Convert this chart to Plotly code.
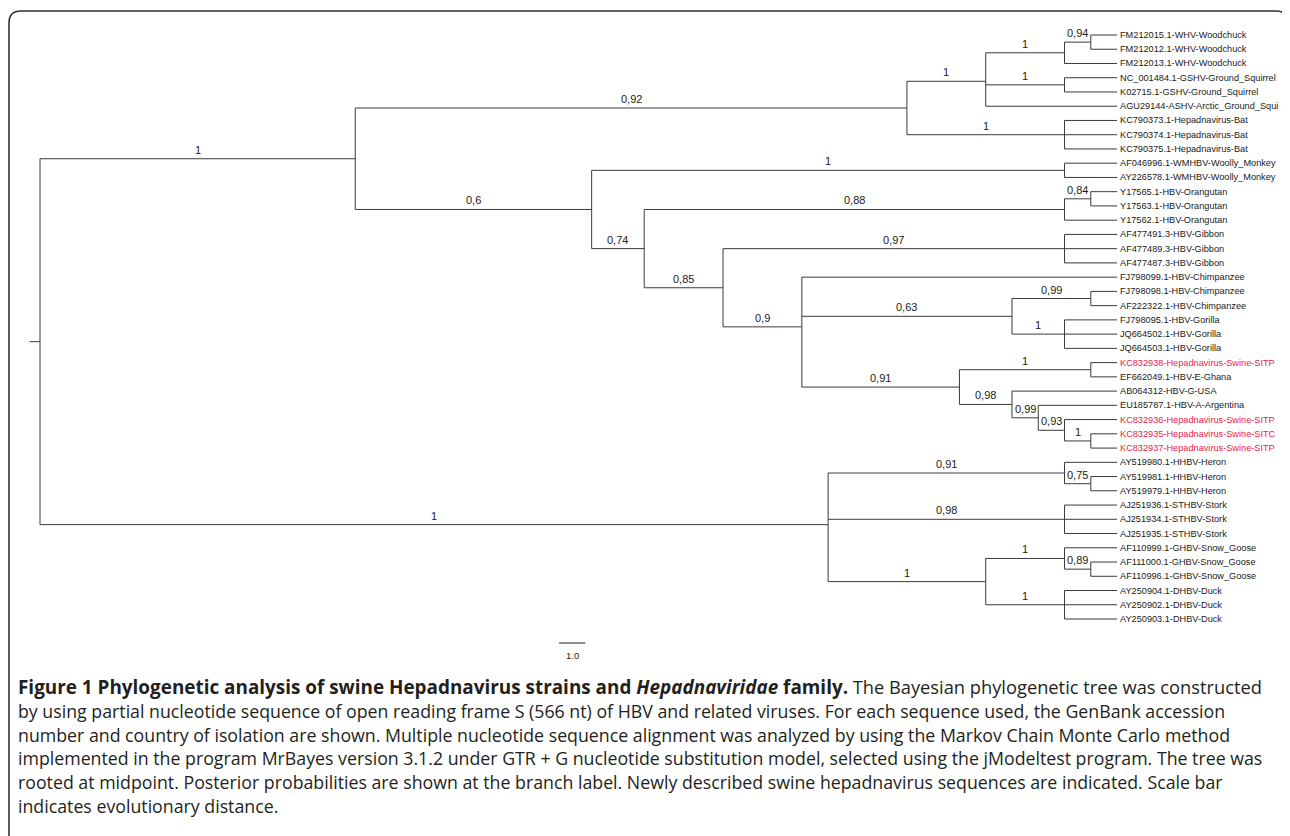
import plotly.graph_objects as go

# ---------------- data: tree (pre-order), branch lengths in tree units ----------------
node_names = [
    "root", "A", "B", "C", "D", "E",
    "FM212015.1-WHV-Woodchuck", "FM212012.1-WHV-Woodchuck", "FM212013.1-WHV-Woodchuck",
    "F", "NC_001484.1-GSHV-Ground_Squirrel", "K02715.1-GSHV-Ground_Squirrel",
    "AGU29144-ASHV-Arctic_Ground_Squi",
    "BAT", "KC790373.1-Hepadnavirus-Bat", "KC790374.1-Hepadnavirus-Bat", "KC790375.1-Hepadnavirus-Bat",
    "G", "WM", "AF046996.1-WMHBV-Woolly_Monkey", "AY226578.1-WMHBV-Woolly_Monkey",
    "H", "OR", "OR2", "Y17565.1-HBV-Orangutan", "Y17563.1-HBV-Orangutan", "Y17562.1-HBV-Orangutan",
    "I", "GB", "AF477491.3-HBV-Gibbon", "AF477489.3-HBV-Gibbon", "AF477487.3-HBV-Gibbon",
    "J", "FJ798099.1-HBV-Chimpanzee",
    "K", "CH", "FJ798098.1-HBV-Chimpanzee", "AF222322.1-HBV-Chimpanzee",
    "GO", "FJ798095.1-HBV-Gorilla", "JQ664502.1-HBV-Gorilla", "JQ664503.1-HBV-Gorilla",
    "L", "SW", "KC832938-Hepadnavirus-Swine-SITP", "EF662049.1-HBV-E-Ghana",
    "M1", "AB064312-HBV-G-USA", "M2", "EU185787.1-HBV-A-Argentina",
    "M3", "KC832936-Hepadnavirus-Swine-SITP", "M4",
    "KC832935-Hepadnavirus-Swine-SITC", "KC832937-Hepadnavirus-Swine-SITP",
    "AV", "HE", "AY519980.1-HHBV-Heron", "HE2", "AY519981.1-HHBV-Heron", "AY519979.1-HHBV-Heron",
    "ST", "AJ251936.1-STHBV-Stork", "AJ251934.1-STHBV-Stork", "AJ251935.1-STHBV-Stork",
    "N", "GS", "AF110999.1-GHBV-Snow_Goose", "GS2", "AF111000.1-GHBV-Snow_Goose",
    "AF110996.1-GHBV-Snow_Goose",
    "DU", "AY250904.1-DHBV-Duck", "AY250902.1-DHBV-Duck", "AY250903.1-DHBV-Duck",
]
node_parents = [
    None, "root", "A", "B", "C", "D",
    "E", "E", "D",
    "C", "F", "F",
    "C",
    "B", "BAT", "BAT", "BAT",
    "A", "G", "WM", "WM",
    "G", "H", "OR", "OR2", "OR2", "OR",
    "H", "I", "GB", "GB", "GB",
    "I", "J",
    "J", "K", "CH", "CH",
    "K", "GO", "GO", "GO",
    "J", "L", "SW", "SW",
    "L", "M1", "M1", "M2",
    "M2", "M3", "M3",
    "M4", "M4",
    "root", "AV", "HE", "HE", "HE2", "HE2",
    "AV", "ST", "ST", "ST",
    "AV", "N", "GS", "GS", "GS2",
    "GS2",
    "N", "DU", "DU", "DU",
]
branch_lengths = [
    0.4, 12, 21, 3, 3, 1,
    1, 1, 2,
    3, 2, 2,
    5,
    6, 2, 2, 2,
    9, 18, 2, 2,
    2, 16, 1, 1, 1, 2,
    3, 13, 2, 2, 2,
    3, 12,
    8, 3, 1, 1,
    2, 2, 2, 2,
    6, 5, 1, 1,
    2, 4, 1, 3,
    1, 2, 1,
    1, 1,
    30, 9, 2, 1, 1, 1,
    9, 2, 2, 2,
    6, 3, 2, 1, 1,
    1,
    3, 2, 2, 2,
]
support_labels = [
    "", "1", "0,92", "1", "1", "0,94",
    "", "", "",
    "1", "", "",
    "",
    "1", "", "", "",
    "0,6", "1", "", "",
    "0,74", "0,88", "0,84", "", "", "",
    "0,85", "0,97", "", "", "",
    "0,9", "",
    "0,63", "0,99", "", "",
    "1", "", "", "",
    "0,91", "1", "", "",
    "0,98", "", "0,99", "",
    "0,93", "", "1",
    "", "",
    "1", "0,91", "", "0,75", "", "",
    "0,98", "", "", "",
    "1", "1", "", "0,89", "",
    "",
    "1", "", "", "",
]
highlight_leaves = [
    "KC832938-Hepadnavirus-Swine-SITP", "KC832936-Hepadnavirus-Swine-SITP",
    "KC832935-Hepadnavirus-Swine-SITC", "KC832937-Hepadnavirus-Swine-SITP",
]
scale_bar_length = [1.0]
scale_bar_label = ["1.0"]

caption_title = "Figure 1 Phylogenetic analysis of swine Hepadnavirus strains and <i>Hepadnaviridae</i> family."
caption_lines = [
    "The Bayesian phylogenetic tree was constructed",
    "by using partial nucleotide sequence of open reading frame S (566 nt) of HBV and related viruses. For each sequence used, the GenBank accession",
    "number and country of isolation are shown. Multiple nucleotide sequence alignment was analyzed by using the Markov Chain Monte Carlo method",
    "implemented in the program MrBayes version 3.1.2 under GTR + G nucleotide substitution model, selected using the jModeltest program. The tree was",
    "rooted at midpoint. Posterior probabilities are shown at the branch label. Newly described swine hepadnavirus sequences are indicated. Scale bar",
    "indicates evolutionary distance.",
]

# ---------------- layout computations ----------------
OFF = 8                 # page body margin
W, H = 1290 - OFF, 836 - OFF
UNIT_PX = 26.27         # pixels per tree unit
ROOT_PX = 40 - OFF
LEAF_PX = 14.244        # pixels per leaf row
TOP_PX = 35 - OFF

parent_of = dict(zip(node_names, node_parents))
length_of = dict(zip(node_names, branch_lengths))
children = {n: [] for n in node_names}
for n, p in zip(node_names, node_parents):
    if p is not None:
        children[p].append(n)

depth = {}
for n in node_names:
    p = parent_of[n]
    depth[n] = 0.0 if p is None else depth[p] + length_of[n]

ypos = {}
leaf_order = [n for n in node_names if not children[n]]
for i, n in enumerate(leaf_order):
    ypos[n] = i
for n in reversed(node_names):
    if children[n]:
        ypos[n] = sum(ypos[c] for c in children[n]) / len(children[n])

xs, ys = [], []
for n in node_names:
    p = parent_of[n]
    if p is None:
        xs += [-length_of[n], 0, None]
        ys += [ypos[n], ypos[n], None]
    else:
        xs += [depth[p], depth[n], None]
        ys += [ypos[n], ypos[n], None]
    if children[n]:
        cy = [ypos[c] for c in children[n]]
        xs += [depth[n], depth[n], None]
        ys += [min(cy), max(cy), None]

LINE = "#3a3a3a"
TXT = "#1a1a1a"
fig = go.Figure()
fig.add_trace(go.Scatter(x=xs, y=ys, mode="lines", line=dict(color=LINE, width=1),
                         hoverinfo="skip", showlegend=False))

annotations = []
for n in leaf_order:
    col = "#f0204c" if n in highlight_leaves else TXT
    annotations.append(dict(x=depth[n], y=ypos[n], xref="x", yref="y", text=n,
                            showarrow=False, xanchor="left", yanchor="middle", xshift=1,
                            font=dict(family="Liberation Sans, Arial", size=9.2, color=col)))
for n, lab in zip(node_names, support_labels):
    if lab and parent_of[n] is not None:
        xm = (depth[parent_of[n]] + depth[n]) / 2
        annotations.append(dict(x=xm, y=ypos[n], xref="x", yref="y", text=lab,
                                showarrow=False, xanchor="center", yanchor="bottom", yshift=1,
                                font=dict(family="Liberation Sans, Arial", size=11, color=TXT)))

# scale bar
sb_x0 = (559 - OFF - ROOT_PX) / UNIT_PX
sb_y = (643 - OFF - TOP_PX) / LEAF_PX
fig.add_trace(go.Scatter(x=[sb_x0, sb_x0 + scale_bar_length[0]], y=[sb_y, sb_y], mode="lines",
                         line=dict(color=TXT, width=1), hoverinfo="skip", showlegend=False))
annotations.append(dict(x=sb_x0 + scale_bar_length[0] / 2, y=sb_y, xref="x", yref="y",
                        text=scale_bar_label[0], showarrow=False, yanchor="top", yshift=-5,
                        font=dict(family="Liberation Sans, Arial", size=9.5, color=TXT)))

# caption
cap_y0, cap_dy = 687 - OFF, 23.8
for i, line in enumerate(caption_lines):
    if i == 0:
        text = (f'<span style="font-size:18.9px"><b>{caption_title}</b></span> '
                f'<span style="font-size:18.3px">{line}</span>')
    else:
        text = line
    annotations.append(dict(x=(16 - OFF) / W, y=1 - (cap_y0 + i * cap_dy) / H, xref="paper", yref="paper",
                            text=text, showarrow=False, xanchor="left", yanchor="middle",
                            font=dict(family="Open Sans", size=17.75, color="#231f20")))

# frame (rounded top corners)
x0, x1, yt = (9 - OFF) / W, (1288 - OFF) / W, 1 - (11 - OFF) / H
rx, ry = 12 / W, 12 / H
frame_path = (f"M {x0},-0.05 L {x0},{yt - ry} Q {x0},{yt} {x0 + rx},{yt} "
              f"L {x1 - rx},{yt} Q {x1},{yt} {x1},{yt - ry} L {x1},-0.05")

fig.update_layout(
    width=W, height=H, margin=dict(l=0, r=0, t=0, b=0),
    paper_bgcolor="white", plot_bgcolor="white",
    xaxis=dict(range=[-ROOT_PX / UNIT_PX, (W - ROOT_PX) / UNIT_PX], visible=False, fixedrange=True),
    yaxis=dict(range=[(H - TOP_PX) / LEAF_PX, -TOP_PX / LEAF_PX], visible=False, fixedrange=True),
    annotations=annotations,
    shapes=[dict(type="path", path=frame_path, xref="paper", yref="paper",
                 line=dict(color="#333333", width=1.6))],
    showlegend=False,
)

fig.write_html("out.html")
